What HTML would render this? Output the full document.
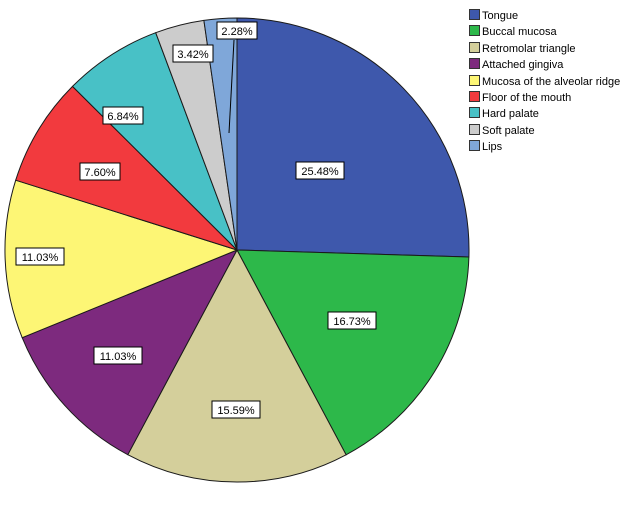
<!DOCTYPE html>
<html><head><meta charset="utf-8"><style>
html,body{margin:0;padding:0;background:#fff;}
text{font-family:"Liberation Sans",Arial,sans-serif;font-size:11px;}
</style></head><body>
<svg width="626" height="501" xmlns="http://www.w3.org/2000/svg">
<rect width="626" height="501" fill="#fff"/>
<g stroke="#1a1a1a" stroke-width="1" stroke-linejoin="round">
<path d="M237,250 L237,18 A232,232 0 0 1 468.9,257 Z" fill="#3e58ac"/>
<path d="M237,250 L468.9,257 A232,232 0 0 1 346.1,454.8 Z" fill="#2db84a"/>
<path d="M237,250 L346.1,454.8 A232,232 0 0 1 127.8,454.7 Z" fill="#d4cf9b"/>
<path d="M237,250 L127.8,454.7 A232,232 0 0 1 22.2,337.7 Z" fill="#7d2a7e"/>
<path d="M237,250 L22.2,337.7 A232,232 0 0 1 15.7,180.2 Z" fill="#fdf675"/>
<path d="M237,250 L15.7,180.2 A232,232 0 0 1 72.5,86.4 Z" fill="#f23a3e"/>
<path d="M237,250 L72.5,86.4 A232,232 0 0 1 155.7,32.7 Z" fill="#48c1c6"/>
<path d="M237,250 L155.7,32.7 A232,232 0 0 1 203.9,20.4 Z" fill="#cccccc"/>
<path d="M237,250 L203.9,20.4 A232,232 0 0 1 237,18 Z" fill="#7fa7d9"/>
<line x1="229" y1="133" x2="234" y2="40" stroke="#000"/>
</g>
<g>
<g transform="translate(320,171)"><rect x="-24" y="-9" width="48" height="17" fill="#fff" stroke="#000"/><text x="0" y="4" text-anchor="middle">25.48%</text></g>
<g transform="translate(352,321)"><rect x="-24" y="-9" width="48" height="17" fill="#fff" stroke="#000"/><text x="0" y="4" text-anchor="middle">16.73%</text></g>
<g transform="translate(236,410)"><rect x="-24" y="-9" width="48" height="17" fill="#fff" stroke="#000"/><text x="0" y="4" text-anchor="middle">15.59%</text></g>
<g transform="translate(118,356)"><rect x="-24" y="-9" width="48" height="17" fill="#fff" stroke="#000"/><text x="0" y="4" text-anchor="middle">11.03%</text></g>
<g transform="translate(40,257)"><rect x="-24" y="-9" width="48" height="17" fill="#fff" stroke="#000"/><text x="0" y="4" text-anchor="middle">11.03%</text></g>
<g transform="translate(100,172)"><rect x="-20" y="-9" width="40" height="17" fill="#fff" stroke="#000"/><text x="0" y="4" text-anchor="middle">7.60%</text></g>
<g transform="translate(123,116)"><rect x="-20" y="-9" width="40" height="17" fill="#fff" stroke="#000"/><text x="0" y="4" text-anchor="middle">6.84%</text></g>
<g transform="translate(193,54)"><rect x="-20" y="-9" width="40" height="17" fill="#fff" stroke="#000"/><text x="0" y="4" text-anchor="middle">3.42%</text></g>
<g transform="translate(237,31)"><rect x="-20" y="-9" width="40" height="17" fill="#fff" stroke="#000"/><text x="0" y="4" text-anchor="middle">2.28%</text></g>
</g>
<g stroke="#333" stroke-width="1">
<rect x="469.5" y="9.5" width="10" height="10" fill="#3e58ac"/>
<rect x="469.5" y="25.5" width="10" height="10" fill="#2db84a"/>
<rect x="469.5" y="42.5" width="10" height="10" fill="#d4cf9b"/>
<rect x="469.5" y="58.5" width="10" height="10" fill="#7d2a7e"/>
<rect x="469.5" y="75.5" width="10" height="10" fill="#fdf675"/>
<rect x="469.5" y="91.5" width="10" height="10" fill="#f23a3e"/>
<rect x="469.5" y="107.5" width="10" height="10" fill="#48c1c6"/>
<rect x="469.5" y="124.5" width="10" height="10" fill="#cccccc"/>
<rect x="469.5" y="140.5" width="10" height="10" fill="#7fa7d9"/>
</g>
<g fill="#000">
<text x="482" y="19">Tongue</text>
<text x="482" y="35">Buccal mucosa</text>
<text x="482" y="52">Retromolar triangle</text>
<text x="482" y="68">Attached gingiva</text>
<text x="482" y="85">Mucosa of the alveolar ridge</text>
<text x="482" y="101">Floor of the mouth</text>
<text x="482" y="117">Hard palate</text>
<text x="482" y="134">Soft palate</text>
<text x="482" y="150">Lips</text>
</g>
</svg>
</body></html>
